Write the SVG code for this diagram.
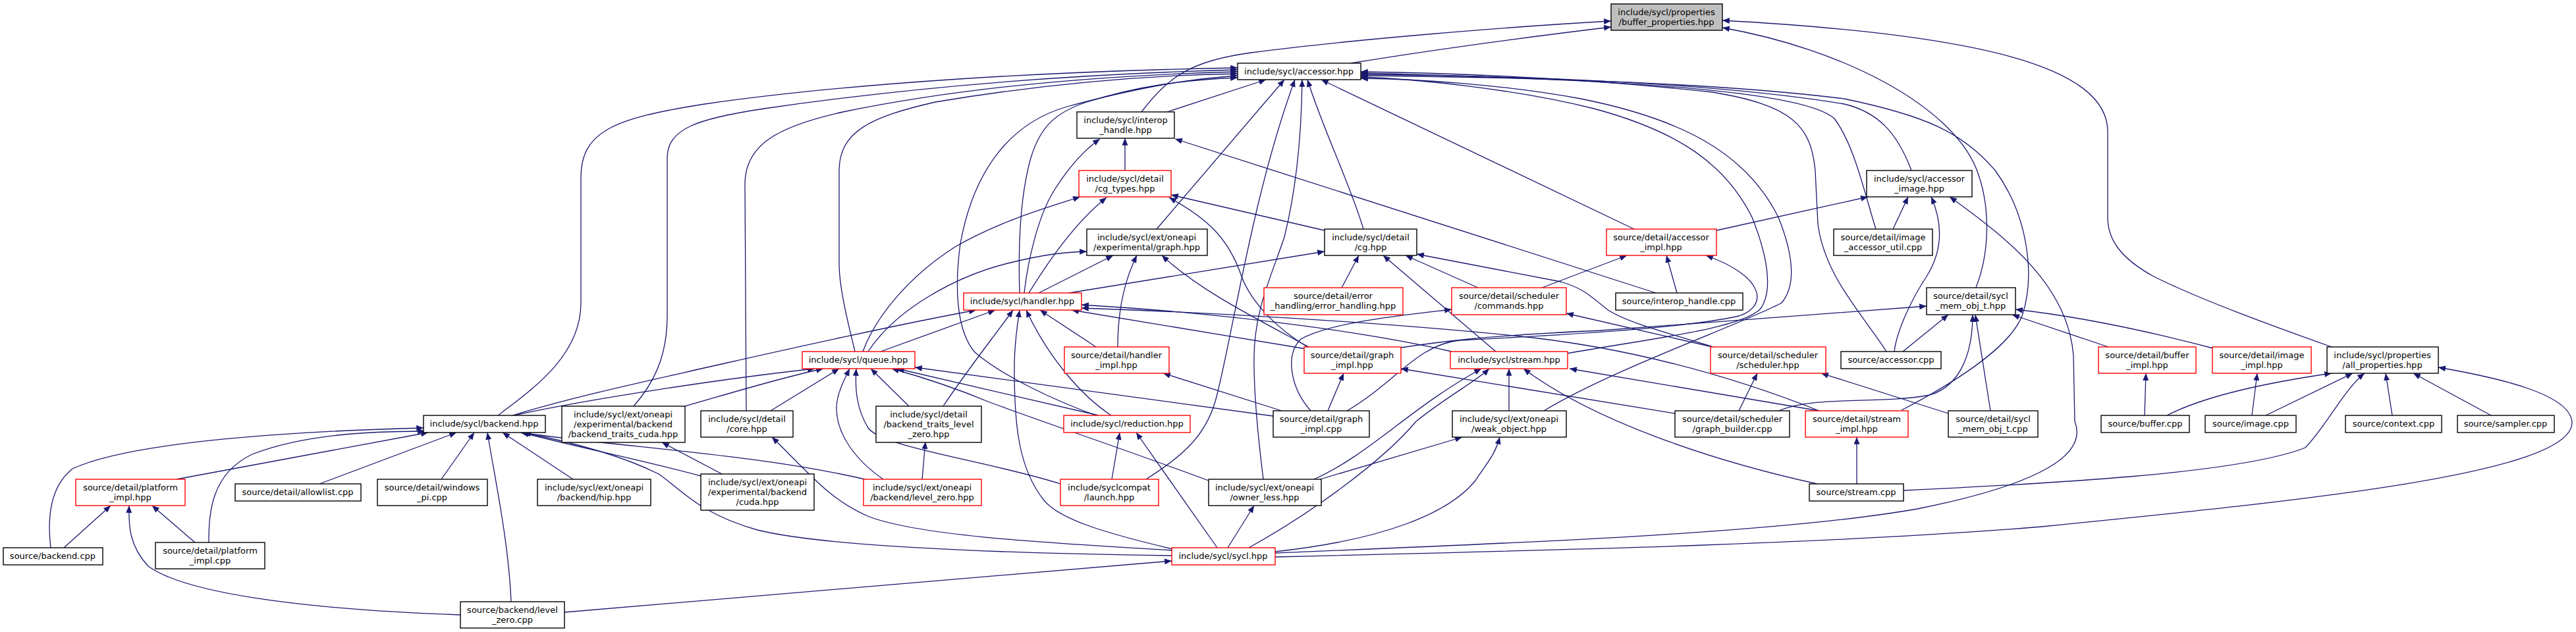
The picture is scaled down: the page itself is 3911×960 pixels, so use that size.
<svg xmlns="http://www.w3.org/2000/svg" width="3911" height="960" viewBox="0 0 3911 960">
<style>
.e path{fill:none;stroke:#191970;stroke-width:1.3;marker-end:url(#a)}
.n rect{fill:#fff;stroke:#000;stroke-width:1.4}
.n.r rect{stroke:#f00}
.n.g rect{fill:#bfbfbf}
text{font-family:"DejaVu Sans",sans-serif;font-size:13px;text-anchor:middle;fill:#000}
</style>
<defs>
<marker id="a" viewBox="0 0 12 10" refX="12" refY="5" markerWidth="12" markerHeight="9" markerUnits="userSpaceOnUse" orient="auto">
<path d="M0,0 L12,5 L0,10 z" fill="#191970"/>
</marker>
</defs>
<rect width="3911" height="960" fill="#fff"/>
<g id="connectors" class="e">
<path d="M2051,96 C2180,75 2330,55 2446,41"/>
<path d="M1733,170 C1775,115 1810,92 1900,80 C2050,60 2300,40 2446,32"/>
<path d="M3540,527 C3450,495 3340,455 3270,420 C3215,390 3200,360 3200,330 L3200,200 C3200,100 3000,52 2615,31"/>
<path d="M3000,437 C3022,380 3022,310 3000,255 C2960,160 2800,75 2615,42"/>
<path d="M756,631 C810,590 882,540 882,460 L882,270 C882,200 930,180 1070,158 C1300,125 1600,108 1879,103"/>
<path d="M962,617 C990,585 1013,545 1013,480 L1013,240 C1013,195 1060,180 1160,165 C1400,130 1650,112 1879,106"/>
<path d="M1133,624 L1131,280 C1131,220 1180,192 1280,170 C1450,135 1650,115 1879,109"/>
<path d="M1298,534 C1290,500 1274,440 1274,400 L1274,260 C1274,200 1320,178 1420,155 C1600,125 1750,114 1879,112"/>
<path d="M1664,631 C1600,608 1520,570 1480,535 C1450,500 1450,430 1458,370 C1480,250 1540,185 1620,162 C1720,135 1800,120 1879,115"/>
<path d="M1548,445 C1546,380 1548,300 1565,240 C1580,190 1605,170 1650,155 C1730,130 1800,121 1879,118"/>
<path d="M1772,170 L1922,121"/>
<path d="M1756,348 L1950,121"/>
<path d="M1740,728 C1800,690 1830,660 1845,610 C1870,520 1900,300 1966,121"/>
<path d="M1918,728 C1912,680 1903,600 1904,540 C1905,470 1930,420 1950,360 C1970,280 1976,200 1977,121"/>
<path d="M2070,348 C2050,280 2010,200 1985,121"/>
<path d="M2481,348 L2006,121"/>
<path d="M2864,534 C2830,480 2770,420 2760,340 L2756,260 C2750,190 2720,160 2600,140 C2400,118 2200,111 2066,109"/>
<path d="M2848,348 C2830,290 2815,220 2785,180 C2740,140 2500,122 2066,111"/>
<path d="M2902,259 C2880,200 2850,170 2800,158 C2600,125 2300,115 2066,113"/>
<path d="M2887,623 C2960,585 3050,530 3070,480 C3090,420 3080,330 3030,260 C2980,200 2920,175 2800,150 C2600,125 2300,117 2066,115"/>
<path d="M2379,537 C2500,515 2640,500 2672,470 C2695,440 2680,380 2660,330 C2620,250 2550,200 2420,165 C2300,135 2150,120 2066,117"/>
<path d="M2344,624 C2450,560 2650,490 2705,460 C2730,430 2720,380 2700,330 C2650,230 2550,180 2400,150 C2280,128 2150,120 2066,119"/>
<path d="M1555,445 C1560,400 1575,330 1600,290 C1625,250 1650,225 1670,211"/>
<path d="M1708,259 L1708,210"/>
<path d="M2514,445 L1784,211"/>
<path d="M1562,445 C1590,400 1630,340 1680,300"/>
<path d="M1310,534 C1330,480 1380,420 1450,375 C1520,335 1590,315 1640,299"/>
<path d="M2011,350 L1778,296"/>
<path d="M1985,527 C1940,500 1900,460 1885,420 C1865,360 1830,330 1775,300"/>
<path d="M2606,350 L2836,299"/>
<path d="M2874,348 L2897,299"/>
<path d="M2876,534 C2880,500 2905,450 2925,420 C2950,380 2950,340 2932,299"/>
<path d="M1936,840 C2300,825 2700,810 2911,773 C3100,735 3170,690 3150,640 L3148,540 C3140,440 3060,370 2960,299"/>
<path d="M1936,846 C2400,835 2800,825 3100,800 C3500,760 3900,720 3905,643 C3905,600 3800,575 3702,558"/>
<path d="M2890,745 C3100,735 3400,720 3500,680 C3530,650 3560,590 3590,567"/>
<path d="M1318,534 C1360,470 1450,420 1530,400 C1590,385 1620,383 1650,382"/>
<path d="M1577,445 L1690,388"/>
<path d="M1697,527 C1697,480 1705,430 1726,388"/>
<path d="M1987,527 C1900,480 1820,440 1764,388"/>
<path d="M1623,445 L2011,382"/>
<path d="M2037,437 L2063,388"/>
<path d="M2271,534 L2100,388"/>
<path d="M2244,437 L2134,388"/>
<path d="M2601,527 C2530,505 2470,490 2440,470 C2410,445 2400,437 2370,428 L2151,386"/>
<path d="M2341,437 L2470,388"/>
<path d="M2546,445 L2530,388"/>
<path d="M2045,624 C2120,580 2150,525 2215,517 C2350,510 2550,500 2640,480 C2685,465 2680,420 2590,388"/>
<path d="M778,631 C880,600 1000,575 1100,552 C1250,518 1380,490 1482,471"/>
<path d="M1337,534 L1511,471"/>
<path d="M1432,617 C1470,560 1510,510 1538,471"/>
<path d="M1780,834 C1680,810 1610,790 1585,760 C1545,710 1540,640 1540,560 C1540,520 1545,490 1548,471"/>
<path d="M1687,631 C1640,600 1590,540 1558,471"/>
<path d="M1664,527 L1579,471"/>
<path d="M1983,530 L1627,471"/>
<path d="M2204,534 C2100,510 1900,478 1642,463"/>
<path d="M2762,624 C2600,560 2450,525 2300,510 C2100,490 1850,475 1642,468"/>
<path d="M1990,624 C1960,590 1950,540 1975,515 C2020,490 2120,480 2204,470"/>
<path d="M2600,527 L2378,476"/>
<path d="M2127,528 C2180,520 2250,510 2430,502 L2925,465"/>
<path d="M2889,534 L2958,478"/>
<path d="M2700,624 C2760,600 2850,615 2930,600 C2980,585 2995,530 2995,478"/>
<path d="M3022,624 L2999,478"/>
<path d="M3201,527 L3055,478"/>
<path d="M3360,529 C3250,500 3150,480 3060,470"/>
<path d="M780,631 C900,605 1100,575 1237,560"/>
<path d="M1040,617 C1100,600 1180,575 1250,560"/>
<path d="M1170,624 L1274,560"/>
<path d="M1341,728 C1300,700 1270,660 1270,620 C1270,600 1280,580 1290,560"/>
<path d="M1610,735 C1500,700 1340,680 1318,650 C1300,620 1298,590 1300,560"/>
<path d="M1380,617 L1322,560"/>
<path d="M1835,730 C1700,680 1580,640 1500,610 C1440,585 1390,570 1354,560"/>
<path d="M1668,631 L1362,560"/>
<path d="M1933,632 L1389,558"/>
<path d="M1946,624 L1766,567"/>
<path d="M2016,624 L2040,567"/>
<path d="M2543,628 L2127,560"/>
<path d="M2291,624 L2291,560"/>
<path d="M2762,624 L2383,560"/>
<path d="M2759,735 C2600,700 2420,640 2313,560"/>
<path d="M1995,728 C2080,690 2140,620 2249,560"/>
<path d="M1896,832 C1990,780 2100,700 2150,640 C2200,600 2240,580 2261,560"/>
<path d="M2640,624 L2668,567"/>
<path d="M2958,628 L2765,567"/>
<path d="M3256,631 L3258,567"/>
<path d="M3419,631 L3427,567"/>
<path d="M3290,631 C3350,600 3450,580 3540,567"/>
<path d="M3440,631 L3572,567"/>
<path d="M3632,631 L3622,567"/>
<path d="M3782,631 L3664,567"/>
<path d="M77,832 C72,790 75,740 110,712 C200,670 450,655 643,650"/>
<path d="M317,824 C317,780 320,720 383,690 C460,660 560,655 645,655"/>
<path d="M268,728 L650,657"/>
<path d="M485,735 L693,657"/>
<path d="M670,728 L720,657"/>
<path d="M776,914 C772,820 750,720 740,657"/>
<path d="M870,728 L763,657"/>
<path d="M1313,728 C1150,690 950,680 790,657"/>
<path d="M1064,723 C980,700 880,680 792,657"/>
<path d="M1779,844 C1500,840 1250,830 1150,805 C1060,780 1030,740 1000,720 C940,690 860,670 795,657"/>
<path d="M1096,720 L1005,672"/>
<path d="M1779,836 C1600,825 1400,815 1320,785 C1260,760 1230,720 1172,664"/>
<path d="M1400,728 L1405,671"/>
<path d="M1688,728 L1700,657"/>
<path d="M1848,832 L1725,657"/>
<path d="M2004,728 L2220,664"/>
<path d="M1936,838 C2100,820 2200,780 2240,730 C2260,700 2270,690 2277,664"/>
<path d="M2819,735 L2819,664"/>
<path d="M97,832 L168,768"/>
<path d="M296,824 L231,768"/>
<path d="M699,934 C450,925 280,900 225,860 C197,830 195,800 196,768"/>
<path d="M1864,832 L1904,768"/>
<path d="M857,930 L1779,852"/>
</g>
<g id="n0" class="n g"><rect x="2446" y="6" width="169" height="40"/><text x="2530" y="23">include/sycl/properties</text><text x="2530" y="38">/buffer_properties.hpp</text></g>
<g id="n1" class="n"><rect x="1879" y="96" width="187" height="25"/><text x="1972" y="113">include/sycl/accessor.hpp</text></g>
<g id="n2" class="n"><rect x="1635" y="170" width="148" height="40"/><text x="1709" y="187">include/sycl/interop</text><text x="1709" y="202">_handle.hpp</text></g>
<g id="n3" class="n r"><rect x="1638" y="259" width="140" height="40"/><text x="1708" y="276">include/sycl/detail</text><text x="1708" y="291">/cg_types.hpp</text></g>
<g id="n4" class="n"><rect x="2834" y="259" width="160" height="40"/><text x="2914" y="276">include/sycl/accessor</text><text x="2914" y="291">_image.hpp</text></g>
<g id="n5" class="n"><rect x="1650" y="348" width="183" height="40"/><text x="1741" y="365">include/sycl/ext/oneapi</text><text x="1741" y="380">/experimental/graph.hpp</text></g>
<g id="n6" class="n"><rect x="2011" y="348" width="140" height="40"/><text x="2081" y="365">include/sycl/detail</text><text x="2081" y="380">/cg.hpp</text></g>
<g id="n7" class="n r"><rect x="2439" y="348" width="167" height="40"/><text x="2522" y="365">source/detail/accessor</text><text x="2522" y="380">_impl.hpp</text></g>
<g id="n8" class="n"><rect x="2784" y="348" width="150" height="40"/><text x="2859" y="365">source/detail/image</text><text x="2859" y="380">_accessor_util.cpp</text></g>
<g id="n9" class="n r"><rect x="1463" y="445" width="179" height="26"/><text x="1552" y="462">include/sycl/handler.hpp</text></g>
<g id="n10" class="n r"><rect x="1919" y="437" width="211" height="41"/><text x="2024" y="454">source/detail/error</text><text x="2024" y="469">_handling/error_handling.hpp</text></g>
<g id="n11" class="n r"><rect x="2204" y="437" width="174" height="41"/><text x="2291" y="454">source/detail/scheduler</text><text x="2291" y="469">/commands.hpp</text></g>
<g id="n12" class="n"><rect x="2453" y="445" width="193" height="26"/><text x="2549" y="462">source/interop_handle.cpp</text></g>
<g id="n13" class="n"><rect x="2925" y="437" width="135" height="41"/><text x="2992" y="454">source/detail/sycl</text><text x="2992" y="469">_mem_obj_t.hpp</text></g>
<g id="n14" class="n r"><rect x="1218" y="534" width="171" height="26"/><text x="1303" y="551">include/sycl/queue.hpp</text></g>
<g id="n15" class="n r"><rect x="1616" y="527" width="159" height="40"/><text x="1695" y="544">source/detail/handler</text><text x="1695" y="559">_impl.hpp</text></g>
<g id="n16" class="n r"><rect x="1980" y="527" width="147" height="40"/><text x="2053" y="544">source/detail/graph</text><text x="2053" y="559">_impl.hpp</text></g>
<g id="n17" class="n r"><rect x="2202" y="534" width="178" height="26"/><text x="2291" y="551">include/sycl/stream.hpp</text></g>
<g id="n18" class="n r"><rect x="2597" y="527" width="175" height="40"/><text x="2684" y="544">source/detail/scheduler</text><text x="2684" y="559">/scheduler.hpp</text></g>
<g id="n19" class="n"><rect x="2795" y="534" width="152" height="26"/><text x="2871" y="551">source/accessor.cpp</text></g>
<g id="n20" class="n r"><rect x="3186" y="527" width="148" height="40"/><text x="3260" y="544">source/detail/buffer</text><text x="3260" y="559">_impl.hpp</text></g>
<g id="n21" class="n r"><rect x="3359" y="527" width="150" height="40"/><text x="3434" y="544">source/detail/image</text><text x="3434" y="559">_impl.hpp</text></g>
<g id="n22" class="n"><rect x="3533" y="527" width="169" height="40"/><text x="3617" y="544">include/sycl/properties</text><text x="3617" y="559">/all_properties.hpp</text></g>
<g id="n23" class="n"><rect x="643" y="631" width="185" height="26"/><text x="735" y="648">include/sycl/backend.hpp</text></g>
<g id="n24" class="n"><rect x="853" y="617" width="187" height="55"/><text x="946" y="634">include/sycl/ext/oneapi</text><text x="946" y="649">/experimental/backend</text><text x="946" y="664">/backend_traits_cuda.hpp</text></g>
<g id="n25" class="n"><rect x="1064" y="624" width="140" height="40"/><text x="1134" y="641">include/sycl/detail</text><text x="1134" y="656">/core.hpp</text></g>
<g id="n26" class="n"><rect x="1330" y="617" width="160" height="55"/><text x="1410" y="634">include/sycl/detail</text><text x="1410" y="649">/backend_traits_level</text><text x="1410" y="664">_zero.hpp</text></g>
<g id="n27" class="n r"><rect x="1615" y="631" width="192" height="26"/><text x="1711" y="648">include/sycl/reduction.hpp</text></g>
<g id="n28" class="n"><rect x="1933" y="624" width="146" height="40"/><text x="2006" y="641">source/detail/graph</text><text x="2006" y="656">_impl.cpp</text></g>
<g id="n29" class="n"><rect x="2205" y="624" width="173" height="40"/><text x="2291" y="641">include/sycl/ext/oneapi</text><text x="2291" y="656">/weak_object.hpp</text></g>
<g id="n30" class="n"><rect x="2543" y="624" width="174" height="40"/><text x="2630" y="641">source/detail/scheduler</text><text x="2630" y="656">/graph_builder.cpp</text></g>
<g id="n31" class="n r"><rect x="2741" y="624" width="156" height="40"/><text x="2819" y="641">source/detail/stream</text><text x="2819" y="656">_impl.hpp</text></g>
<g id="n32" class="n"><rect x="2958" y="624" width="136" height="40"/><text x="3026" y="641">source/detail/sycl</text><text x="3026" y="656">_mem_obj_t.cpp</text></g>
<g id="n33" class="n"><rect x="3190" y="631" width="134" height="26"/><text x="3257" y="648">source/buffer.cpp</text></g>
<g id="n34" class="n"><rect x="3348" y="631" width="138" height="26"/><text x="3417" y="648">source/image.cpp</text></g>
<g id="n35" class="n"><rect x="3561" y="631" width="146" height="26"/><text x="3634" y="648">source/context.cpp</text></g>
<g id="n36" class="n"><rect x="3731" y="631" width="147" height="26"/><text x="3804" y="648">source/sampler.cpp</text></g>
<g id="n37" class="n r"><rect x="115" y="728" width="166" height="40"/><text x="198" y="745">source/detail/platform</text><text x="198" y="760">_impl.hpp</text></g>
<g id="n38" class="n"><rect x="357" y="735" width="191" height="26"/><text x="452" y="752">source/detail/allowlist.cpp</text></g>
<g id="n39" class="n"><rect x="573" y="728" width="167" height="40"/><text x="656" y="745">source/detail/windows</text><text x="656" y="760">_pi.cpp</text></g>
<g id="n40" class="n"><rect x="816" y="728" width="172" height="40"/><text x="902" y="745">include/sycl/ext/oneapi</text><text x="902" y="760">/backend/hip.hpp</text></g>
<g id="n41" class="n"><rect x="1064" y="720" width="172" height="55"/><text x="1150" y="737">include/sycl/ext/oneapi</text><text x="1150" y="752">/experimental/backend</text><text x="1150" y="767">/cuda.hpp</text></g>
<g id="n42" class="n r"><rect x="1311" y="728" width="179" height="40"/><text x="1400" y="745">include/sycl/ext/oneapi</text><text x="1400" y="760">/backend/level_zero.hpp</text></g>
<g id="n43" class="n r"><rect x="1610" y="728" width="149" height="40"/><text x="1684" y="745">include/syclcompat</text><text x="1684" y="760">/launch.hpp</text></g>
<g id="n44" class="n"><rect x="1835" y="728" width="171" height="40"/><text x="1920" y="745">include/sycl/ext/oneapi</text><text x="1920" y="760">/owner_less.hpp</text></g>
<g id="n45" class="n"><rect x="2747" y="735" width="143" height="26"/><text x="2818" y="752">source/stream.cpp</text></g>
<g id="n46" class="n"><rect x="5" y="832" width="151" height="26"/><text x="80" y="849">source/backend.cpp</text></g>
<g id="n47" class="n"><rect x="236" y="824" width="166" height="40"/><text x="319" y="841">source/detail/platform</text><text x="319" y="856">_impl.cpp</text></g>
<g id="n48" class="n r"><rect x="1779" y="832" width="157" height="26"/><text x="1857" y="849">include/sycl/sycl.hpp</text></g>
<g id="n49" class="n"><rect x="699" y="914" width="158" height="40"/><text x="778" y="931">source/backend/level</text><text x="778" y="946">_zero.cpp</text></g>
</svg>
